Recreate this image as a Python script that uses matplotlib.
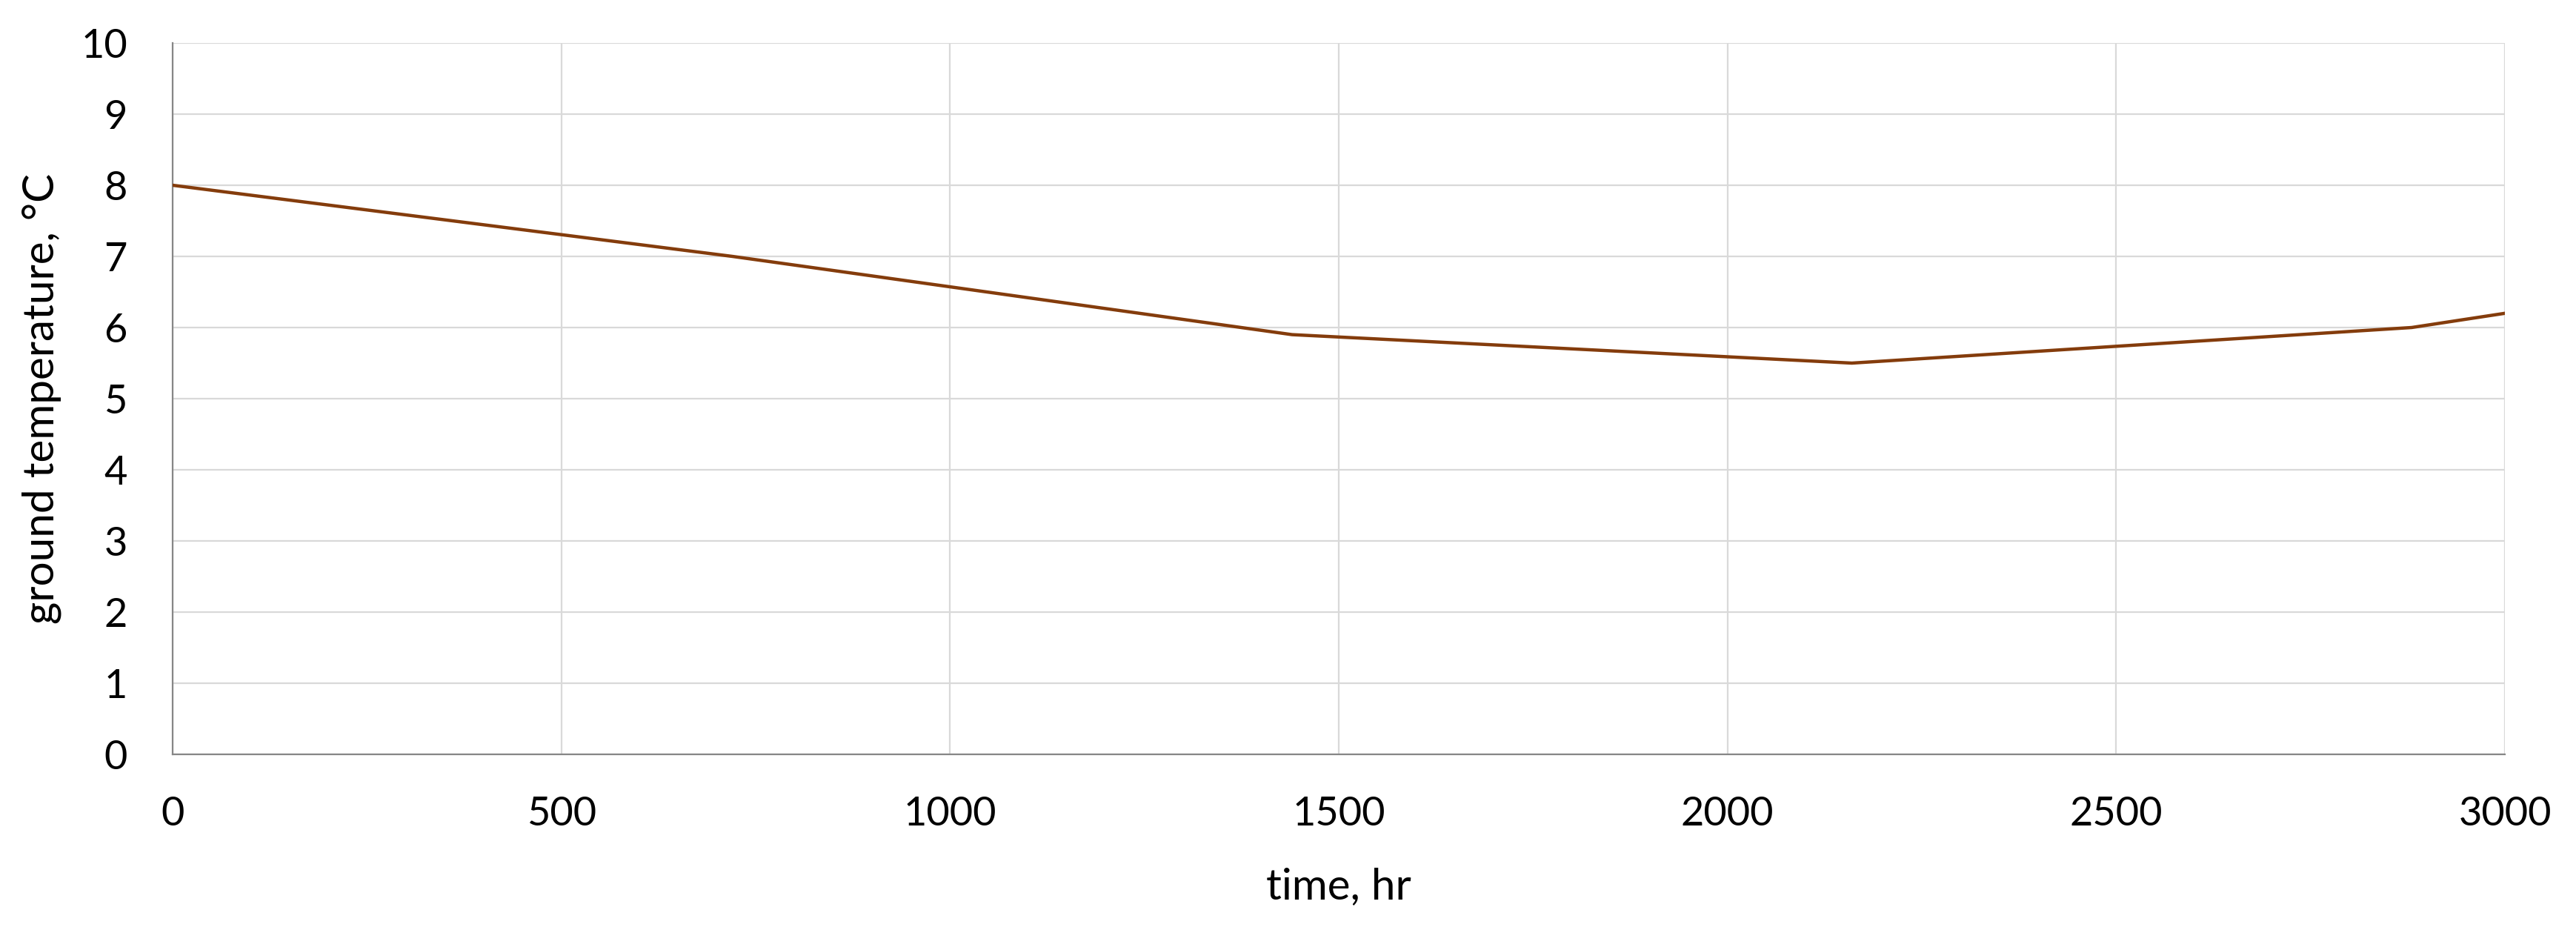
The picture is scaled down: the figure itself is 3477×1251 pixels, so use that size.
import matplotlib
matplotlib.use("Agg")
from matplotlib import pyplot as plt

# values
time_hr = [0, 720, 1440, 2160, 2880, 3000]
ground_temp = [8.0, 7.0, 5.9, 5.5, 6.0, 6.2]
x_ticks = [0, 500, 1000, 1500, 2000, 2500, 3000]
y_ticks = list(range(0, 11))

plt.rcParams['font.family'] = ['Lato', 'DejaVu Sans']

fig = plt.figure(figsize=(34.77, 12.51), dpi=100)
fig.subplots_adjust(left=233 / 3477, right=3381 / 3477,
                    bottom=1 - 1018 / 1251, top=1 - 58 / 1251)
ax = fig.add_subplot(111)

ax.plot(time_hr, ground_temp, color='#843C0C', linewidth=3.2,
        solid_joinstyle='round', zorder=3)

ax.set_xlim(0, 3000)
ax.set_ylim(0, 10)
ax.set_xticks(x_ticks)
ax.set_yticks(y_ticks)
ax.grid(True, color='#D9D9D9', linewidth=1.6)
ax.set_axisbelow(True)

for side in ('top', 'right'):
    ax.spines[side].set_visible(False)
for side in ('left', 'bottom'):
    ax.spines[side].set_color('#868686')
    ax.spines[side].set_linewidth(1.6)

ax.tick_params(axis='both', length=0, labelsize=39, colors='black')
ax.tick_params(axis='y', pad=44)
ax.tick_params(axis='x', pad=40)

ax.set_xlabel('time, hr', fontsize=42)
ax.set_ylabel('ground temperature, °C', fontsize=42)
ax.xaxis.set_label_coords(0.5, -0.186)
ax.xaxis.label.set_verticalalignment('center')
ax.yaxis.set_label_coords(-0.056, 0.5)
ax.yaxis.label.set_verticalalignment('center')

fig.savefig('out.png', dpi=100)
